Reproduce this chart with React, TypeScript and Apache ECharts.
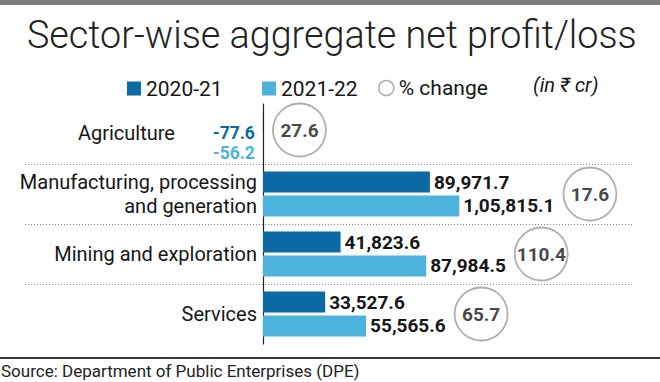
import React, { useEffect, useRef } from "react";
import * as echarts from "echarts";

const categories = [
  "Agriculture",
  "Manufacturing, processing\nand generation",
  "Mining and exploration",
  "Services",
];
const values2021 = [-77.6, 89971.7, 41823.6, 33527.6];
const values2122 = [-56.2, 105815.1, 87984.5, 55565.6];
const pctChange = [27.6, 17.6, 110.4, 65.7];
const seriesNames = ["2020-21", "2021-22", "% change"];
const titleText = "Sector-wise aggregate net profit/loss";
const unitText = "(in \u20B9 cr)";
const sourceText = "Source: Department of Public Enterprises (DPE)";

const FONT = "Roboto, 'Noto Sans', 'DejaVu Sans', sans-serif";
const DARK = "#0b69a3";
const LIGHT = "#4db3dd";
const CIRCLE = "#9a9a9a";
const TEXT = "#161616";

function fmtIN(v: number): string {
  const neg = v < 0;
  const s = Math.abs(v).toFixed(1);
  const [intPart, dec] = s.split(".");
  let last3 = intPart.slice(-3);
  let rest = intPart.slice(0, -3);
  if (rest) {
    rest = rest.replace(/\B(?=(\d{2})+(?!\d))/g, ",");
    last3 = "," + last3;
  }
  return (neg ? "-" : "") + rest + last3 + "." + dec;
}

function measure(text: string, font: string): number {
  const c = document.createElement("canvas").getContext("2d");
  if (!c) return text.length * 9.5;
  c.font = font;
  return c.measureText(text).width;
}

export default function App() {
  const ref = useRef<HTMLDivElement>(null);

  useEffect(() => {
    document.body.style.margin = "0";
    if (!ref.current) return;
    const chart = echarts.init(ref.current, undefined, { renderer: "svg" });

    const labelFontSize = 19;
    const labelFont = `bold ${labelFontSize}px Roboto`;
    const negFontSize = 17.5;
    const negFont = `bold ${negFontSize}px Roboto`;
    const R = 26.5;
    const labelDist = 4;
    const negDist = 8;
    const gap = 9;

    const circleData = pctChange.map((p, i) => {
      const maxV = Math.max(values2021[i], values2122[i]);
      const off =
        maxV > 0
          ? labelDist + measure(fmtIN(maxV), labelFont) + gap + R
          : 10 + R;
      return {
        value: [Math.max(0, maxV), i],
        symbolOffset: [off, maxV > 0 ? 0 : -4],
      };
    });

    const negPad = (i: number) => {
      const w = Math.max(
        measure(fmtIN(values2021[i]), negFont),
        measure(fmtIN(values2122[i]), negFont)
      );
      return negDist + w + 32;
    };

    const barLabel = {
      show: true,
      position: "right",
      distance: labelDist,
      formatter: (p: any) => fmtIN(p.value),
      fontFamily: FONT,
      fontSize: labelFontSize,
      fontWeight: "bold",
      color: TEXT,
    };

    const mkData = (vals: number[], color: string, dy: number) =>
      vals.map((v) =>
        v < 0
          ? {
              value: v,
              label: {
                position: "left",
                distance: negDist,
                color,
                fontSize: negFontSize,
                offset: [0, dy],
              },
            }
          : v
      );

    const legendBase = {
      top: 78,
      itemWidth: 14,
      itemHeight: 14,
      padding: 0,
      selectedMode: false,
      textStyle: { fontFamily: FONT, fontSize: 21, color: TEXT },
    };

    const negIdx = categories.findIndex(
      (_, i) => Math.max(values2021[i], values2122[i]) < 0
    );

    chart.setOption({
      animation: false,
      grid: [
        { left: 263, right: 26, top: 104, bottom: 38 },
        { left: 25, right: 27, top: 104, bottom: 38 },
      ],
      xAxis: [
        { type: "value", gridIndex: 0, min: 0, max: 200000, show: false },
        { type: "value", gridIndex: 1, min: 0, max: 1, show: false },
      ],
      yAxis: [
        {
          type: "category",
          gridIndex: 0,
          data: categories,
          inverse: true,
          axisLine: { show: true, lineStyle: { color: "#222", width: 1.2 } },
          axisTick: { show: false },
          splitLine: { show: false },
          axisLabel: {
            margin: 6,
            fontFamily: FONT,
            fontSize: 20,
            lineHeight: 24,
            color: TEXT,
            align: "right",
            formatter: (value: string, index: number) =>
              Math.max(values2021[index], values2122[index]) < 0
                ? `{neg|${value}}`
                : value,
            rich: {
              neg: {
                fontFamily: FONT,
                fontSize: 20,
                color: TEXT,
                padding: [0, negIdx >= 0 ? negPad(negIdx) : 0, 2, 0],
              },
            },
          },
        },
        {
          type: "category",
          gridIndex: 1,
          data: categories,
          inverse: true,
          axisLine: { show: false },
          axisTick: { show: false },
          axisLabel: { show: false },
          splitLine: {
            show: true,
            showMinLine: false,
            showMaxLine: false,
            lineStyle: { color: "#8a8a8a", width: 1, type: [1, 2] },
          },
        },
      ],
      legend: [
        { ...legendBase, left: 127, data: [{ name: seriesNames[0], icon: "rect" }] },
        { ...legendBase, left: 262, data: [{ name: seriesNames[1], icon: "rect" }] },
        {
          ...legendBase,
          left: 378,
          top: 77.5,
          itemWidth: 15,
          itemHeight: 15,
          data: [
            {
              name: seriesNames[2],
              icon: "circle",
              itemStyle: { color: "#fff", borderColor: CIRCLE, borderWidth: 1.5 },
            },
          ],
        },
      ],
      series: [
        {
          type: "bar",
          name: seriesNames[0],
          xAxisIndex: 0,
          yAxisIndex: 0,
          data: mkData(values2021, DARK, 11),
          barWidth: 21,
          barGap: "14%",
          clip: false,
          itemStyle: { color: DARK },
          label: barLabel,
        },
        {
          type: "bar",
          name: seriesNames[1],
          xAxisIndex: 0,
          yAxisIndex: 0,
          data: mkData(values2122, LIGHT, 7.5),
          barWidth: 21,
          barGap: "14%",
          clip: false,
          itemStyle: { color: LIGHT },
          label: barLabel,
        },
        {
          type: "scatter",
          name: seriesNames[2],
          xAxisIndex: 0,
          yAxisIndex: 0,
          data: circleData,
          symbol: "circle",
          symbolSize: 2 * R,
          clip: false,
          z: 3,
          itemStyle: { color: "#fff", borderColor: CIRCLE, borderWidth: 1.8 },
          label: {
            show: true,
            position: "inside",
            formatter: (p: any) => pctChange[p.dataIndex].toFixed(1),
            fontFamily: FONT,
            fontSize: labelFontSize,
            fontWeight: "bold",
            color: TEXT,
          },
        },
      ],
      graphic: [
        { type: "rect", left: 0, top: 0, shape: { width: 660, height: 5 }, style: { fill: "#7d7d7d" } },
        {
          type: "text",
          x: 27,
          y: 35,
          scaleX: 0.98,
          style: {
            text: titleText,
            font: `300 38.5px ${FONT}`,
            fill: "#222",
            textAlign: "left",
            textVerticalAlign: "middle",
          },
        },
        {
          type: "text",
          x: 533,
          y: 85,
          style: {
            text: unitText,
            font: `italic 20px ${FONT}`,
            fill: TEXT,
            textAlign: "left",
            textVerticalAlign: "middle",
          },
        },
        { type: "rect", x: 0, y: 357, shape: { width: 660, height: 2 }, style: { fill: "#3a3a3a" } },
        {
          type: "text",
          x: 1,
          y: 371,
          style: {
            text: sourceText,
            font: `17px ${FONT}`,
            fill: "#222",
            textAlign: "left",
            textVerticalAlign: "middle",
          },
        },
      ],
    });

    return () => chart.dispose();
  }, []);

  return (
    <div
      ref={ref}
      style={{ position: "absolute", left: 0, top: 0, width: 660, height: 382 }}
    />
  );
}
